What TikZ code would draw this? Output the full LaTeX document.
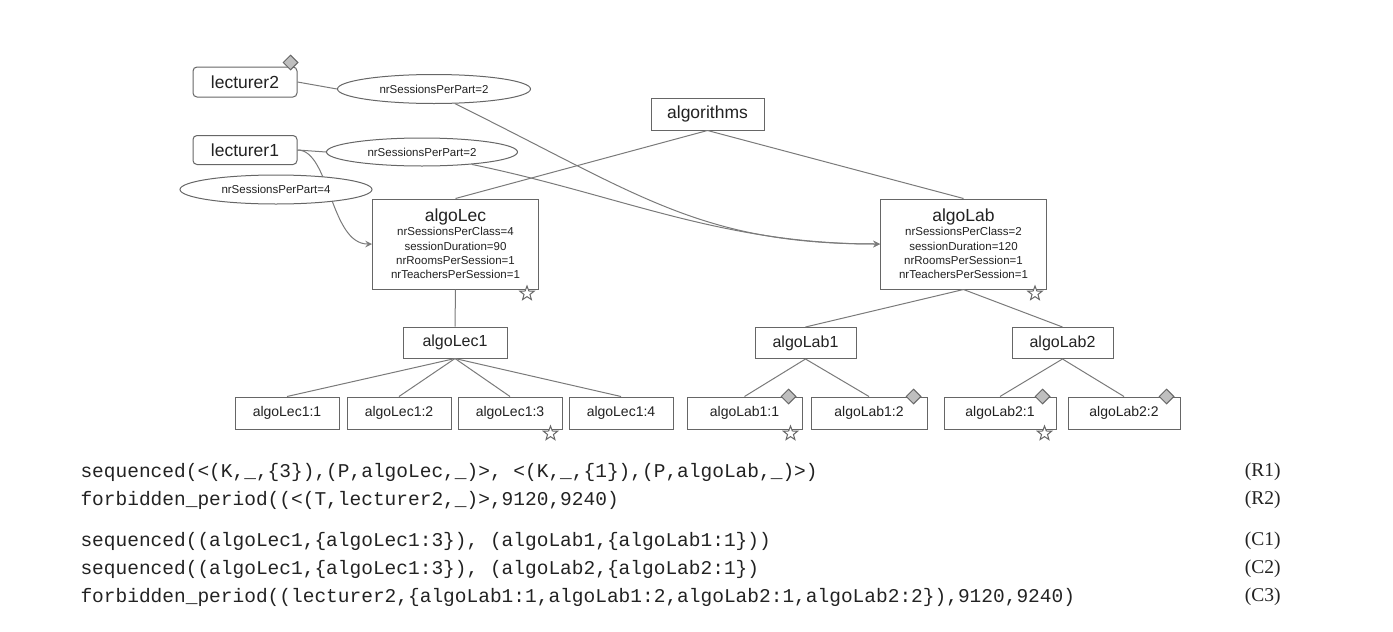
\documentclass[tikz,border=0pt]{standalone}
\usepackage{fontspec}
\setmainfont{Liberation Sans}
\setmonofont{Liberation Mono}
\newfontfamily\tagfont{Liberation Serif}
\usetikzlibrary{shapes.geometric}
\definecolor{edgegray}{HTML}{7A7A7A}
\definecolor{boxgray}{HTML}{666666}
\definecolor{txt}{HTML}{222222}
\newcommand{\bigf}{\fontsize{8.75}{10.5}\selectfont}

\begin{document}
\begin{tikzpicture}[x=0.5pt, y=-0.5pt, >=stealth,
    every node/.style={inner sep=0pt, line width=0.5pt, text=txt},
    box/.style={draw=boxgray, fill=white, minimum height=15.5pt, font=\fontsize{8}{9.6}\selectfont},
    top/.style={box, font=\bigf},
    cls/.style={box, align=center, minimum width=83pt, minimum height=45pt, font=\fontsize{5.75}{7.15}\selectfont},
    leaf/.style={box, minimum height=16pt, font=\fontsize{7}{8.4}\selectfont},
    ell/.style={ellipse, draw=boxgray, fill=white, minimum height=14.5pt, font=\fontsize{5.75}{7}\selectfont},
    edge/.style={draw=edgegray, line width=0.5pt},
    dmd/.style={diamond, draw=boxgray, fill=black!25, minimum size=7.5pt},
    starmk/.style={star, star points=5, star point ratio=2.4, draw=boxgray, fill=white, minimum size=7.5pt},
    code/.style={anchor=west, font=\ttfamily\fontsize{9.75}{11}\selectfont},
    tag/.style={anchor=east, font=\tagfont\fontsize{9.75}{11}\selectfont}]
  \useasboundingbox (0,0) rectangle (1393,632);

  % teachers and the course
  \node[top, rounded corners=2pt, minimum width=52pt, minimum height=15pt] (lecturer2) at (245,82) {lecturer2};
  \node[top, rounded corners=2pt, minimum width=52pt, minimum height=14.5pt] (lecturer1) at (245,150) {lecturer1};
  \node[top, minimum width=56.5pt, minimum height=16pt] (algorithms) at (707.5,114) {algorithms};

  % parts
  \node[cls] (algoLec) at (455.5,244) {{\bigf algoLec}\\ nrSessionsPerClass=4\\ sessionDuration=90\\ nrRoomsPerSession=1\\ nrTeachersPerSession=1};
  \node[cls] (algoLab) at (963.5,244) {{\bigf algoLab}\\ nrSessionsPerClass=2\\ sessionDuration=120\\ nrRoomsPerSession=1\\ nrTeachersPerSession=1};

  % classes
  \node[box, minimum width=52pt] (algoLec1) at (455,342.5) {algoLec1};
  \node[box, minimum width=50.5pt] (algoLab1) at (805.5,343) {algoLab1};
  \node[box, minimum width=50.5pt] (algoLab2) at (1062.5,343) {algoLab2};

  % sub-classes
  \node[leaf, minimum width=52pt] (lec11) at (287,413) {algoLec1:1};
  \node[leaf, minimum width=52pt] (lec12) at (399,413) {algoLec1:2};
  \node[leaf, minimum width=52pt] (lec13) at (510,413) {algoLec1:3};
  \node[leaf, minimum width=52pt] (lec14) at (621,413) {algoLec1:4};
  \node[leaf, minimum width=57.5pt] (lab11) at (744.5,413) {algoLab1:1};
  \node[leaf, minimum width=58pt] (lab12) at (869,413) {algoLab1:2};
  \node[leaf, minimum width=56pt] (lab21) at (1000,413) {algoLab2:1};
  \node[leaf, minimum width=56pt] (lab22) at (1124,413) {algoLab2:2};

  \draw[edge] (algorithms.south) -- (algoLec.north);
  \draw[edge] (algorithms.south) -- (algoLab.north);
  \draw[edge] (algoLec.south) -- (algoLec1.north);
  \draw[edge] (algoLab.south) -- (algoLab1.north);
  \draw[edge] (algoLab.south) -- (algoLab2.north);
  \foreach \n in {lec11,lec12,lec13,lec14}
    \draw[edge] (algoLec1.south) -- (\n.north);
  \draw[edge] (algoLab1.south) -- (lab11.north);
  \draw[edge] (algoLab1.south) -- (lab12.north);
  \draw[edge] (algoLab2.south) -- (lab21.north);
  \draw[edge] (algoLab2.south) -- (lab22.north);

  % teacher links
  \node[ell, minimum width=96.5pt] (sessL2) at (434,89) {nrSessionsPerPart=2};
  \node[ell, minimum width=95.5pt, minimum height=14pt] (sessL1b) at (422,152) {nrSessionsPerPart=2};
  \draw[edge] (lecturer2.east) -- (sessL2.west);
  \draw[edge, ->] (sessL2.-35) .. controls (640,195) and (700,244) .. (algoLab.west);
  \draw[edge] (lecturer1.east) -- (sessL1b.west);
  \draw[edge, ->] (sessL1b.-14) .. controls (620,195) and (720,244) .. (algoLab.west);
  \draw[edge, ->] (lecturer1.east) .. controls (330,150) and (330,244) .. (algoLec.west);
  \node[ell, minimum width=96pt] (sessL1a) at (276,189.5) {nrSessionsPerPart=4};

  % marks
  \node[dmd] (lecturer2-d) at ([shift={(-7,-4)}]lecturer2.north east) {};
  \foreach \n in {lab11,lab12,lab21,lab22}
    \node[dmd] (\n-d) at ([shift={(-14,0)}]\n.north east) {};
  \foreach \n in {algoLec,algoLab,lec13,lab11,lab21}
    \node[starmk] (\n-s) at ([shift={(-12,4)}]\n.south east) {};

  % rules and constraints
  \node[code] (r1) at (80,472) {sequenced(<(K,\_,\{3\}),(P,algoLec,\_)>, <(K,\_,\{1\}),(P,algoLab,\_)>)};
  \node[code] (r2) at (80,500) {forbidden\_period((<(T,lecturer2,\_)>,9120,9240)};
  \node[code] (c1) at (80,541) {sequenced((algoLec1,\{algoLec1:3\}), (algoLab1,\{algoLab1:1\}))};
  \node[code] (c2) at (80,569) {sequenced((algoLec1,\{algoLec1:3\}), (algoLab2,\{algoLab2:1\})};
  \node[code] (c3) at (80,597) {forbidden\_period((lecturer2,\{algoLab1:1,algoLab1:2,algoLab2:1,algoLab2:2\}),9120,9240)};
  \node[tag] (r1t) at (1281,472) {(R1)};
  \node[tag] (r2t) at (1281,500) {(R2)};
  \node[tag] (c1t) at (1281,541) {(C1)};
  \node[tag] (c2t) at (1281,569) {(C2)};
  \node[tag] (c3t) at (1281,597) {(C3)};
\end{tikzpicture}
\end{document}
